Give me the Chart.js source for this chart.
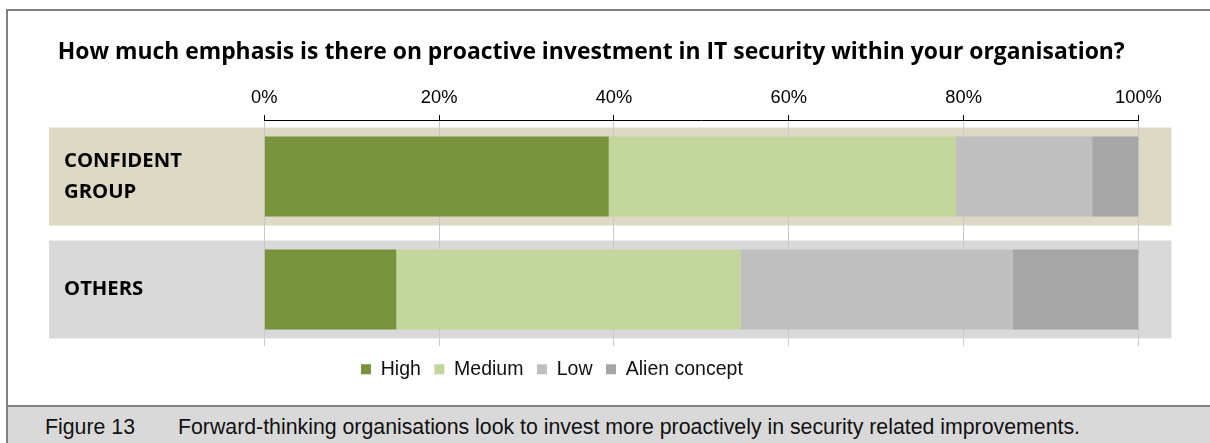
<!DOCTYPE html>
<html>
<head>
<meta charset="utf-8">
<script src="https://cdn.jsdelivr.net/npm/chart.js@4"></script>
<style>
  body { margin: 0; background: #fff; }
  #page { position: relative; width: 1210px; height: 443px; overflow: hidden; }
  #frame { position: absolute; left: 6px; top: 9px; width: 1300px; height: 396px; border-left: 2px solid #808080; border-top: 2px solid #808080; }
  #caption { position: absolute; left: 6px; top: 405px; width: 1300px; height: 36px; border-left: 2px solid #808080; border-top: 2px solid #808080; background: #d9d9d9; font: 21.3px "Liberation Sans", Arial, sans-serif; color: #111; }
  #caption span { position: absolute; top: 7.6px; line-height: 24px; white-space: nowrap; }
  #chart { position: absolute; left: 0; top: 0; }
</style>
</head>
<body>
<div id="page">
  <div id="frame"></div>
  <canvas id="chart" width="1210" height="406"></canvas>
  <div id="caption"><span style="left:37px">Figure 13</span><span style="left:170px">Forward-thinking organisations look to invest more proactively in security related improvements.</span></div>
</div>
<script>
const categories = [['CONFIDENT', 'GROUP'], 'OTHERS'];
const highValues = [39.4, 15.1];
const mediumValues = [39.7, 39.4];
const lowValues = [15.6, 31.1];
const alienValues = [5.3, 14.4];

const seriesNames = ['High', 'Medium', 'Low', 'Alien concept'];
const seriesColors = ['#77933c', '#c3d69b', '#bfbfbf', '#a6a6a6'];
const bandColors = ['#ddd9c4', '#d9d9d9'];

const axisMax = 100;
const axisStep = 20;

const titleText = 'How much emphasis is there on proactive investment in IT security within your organisation?';

// size the bold texts by width so they keep the same run length as the printed figure
const measure = document.createElement('canvas').getContext('2d');
function sizeFor(text, family, width) {
    measure.font = `bold 100px "${family}"`;
    return 100 * width / measure.measureText(text).width;
}
const titleSize = sizeFor(titleText, 'Open Sans', 1068);
const rowSize = sizeFor('CONFIDENT', 'Open Sans', 118);

// coloured strip behind each row, painted before the grid
const rowBands = {
    id: 'rowBands',
    beforeDraw(chart) {
        const { ctx, chartArea, scales: { y } } = chart;
        ctx.save();
        categories.forEach((_, i) => {
            const mid = y.getPixelForValue(i);
            ctx.fillStyle = bandColors[i];
            ctx.fillRect(49, mid - 49, chartArea.right + 33 - 49, 98);
        });
        ctx.restore();
    },
    afterLayout(chart) {
        // title sits a bit left of the plot centre, legend starts under 11%
        chart.titleBlock.left = 44;
        chart.legend.left = 347.5;
    }
};

const values = [highValues, mediumValues, lowValues, alienValues];

new Chart(document.getElementById('chart'), {
    type: 'bar',
    data: {
        labels: categories,
        datasets: seriesNames.map((name, i) => ({
            label: name,
            data: values[i],
            backgroundColor: seriesColors[i],
            borderWidth: 0,
            barPercentage: 0.71,
            categoryPercentage: 1
        }))
    },
    plugins: [rowBands],
    options: {
        indexAxis: 'y',
        responsive: false,
        animation: false,
        layout: { padding: { left: 64, right: 71.5, top: 0, bottom: 17 } },
        plugins: {
            title: {
                display: true,
                text: titleText,
                color: '#000',
                font: { family: 'Open Sans', weight: 'bold', size: titleSize, lineHeight: 1.2 },
                padding: { top: 52.5 - titleSize * 0.6, bottom: 0 }
            },
            legend: {
                position: 'bottom',
                align: 'start',
                labels: {
                    boxWidth: 10,
                    boxHeight: 10,
                    padding: 13.5,
                    color: '#111',
                    font: { family: 'Liberation Sans', size: 19.5 }
                }
            },
            tooltip: { enabled: false }
        },
        scales: {
            x: {
                position: 'top',
                stacked: true,
                min: 0,
                max: axisMax,
                afterFit(scale) { scale.height = 120 - (52.5 + titleSize * 0.6); },
                grid: { color: '#c8c8c8', tickColor: '#000', tickLength: 5 },
                border: { color: '#000', width: 1 },
                ticks: {
                    stepSize: axisStep,
                    padding: 6.2,
                    color: '#000',
                    font: { family: 'Liberation Sans', size: 18.3 },
                    callback: v => v + '%'
                }
            },
            y: {
                stacked: true,
                afterFit(scale) { scale.width = 200.3; },
                grid: { display: false, drawTicks: false },
                border: { display: false },
                ticks: {
                    crossAlign: 'far',
                    padding: 4,
                    color: '#000',
                    font: { family: 'Open Sans', weight: 'bold', size: rowSize, lineHeight: 31 / rowSize }
                }
            }
        }
    }
});
</script>
</body>
</html>
